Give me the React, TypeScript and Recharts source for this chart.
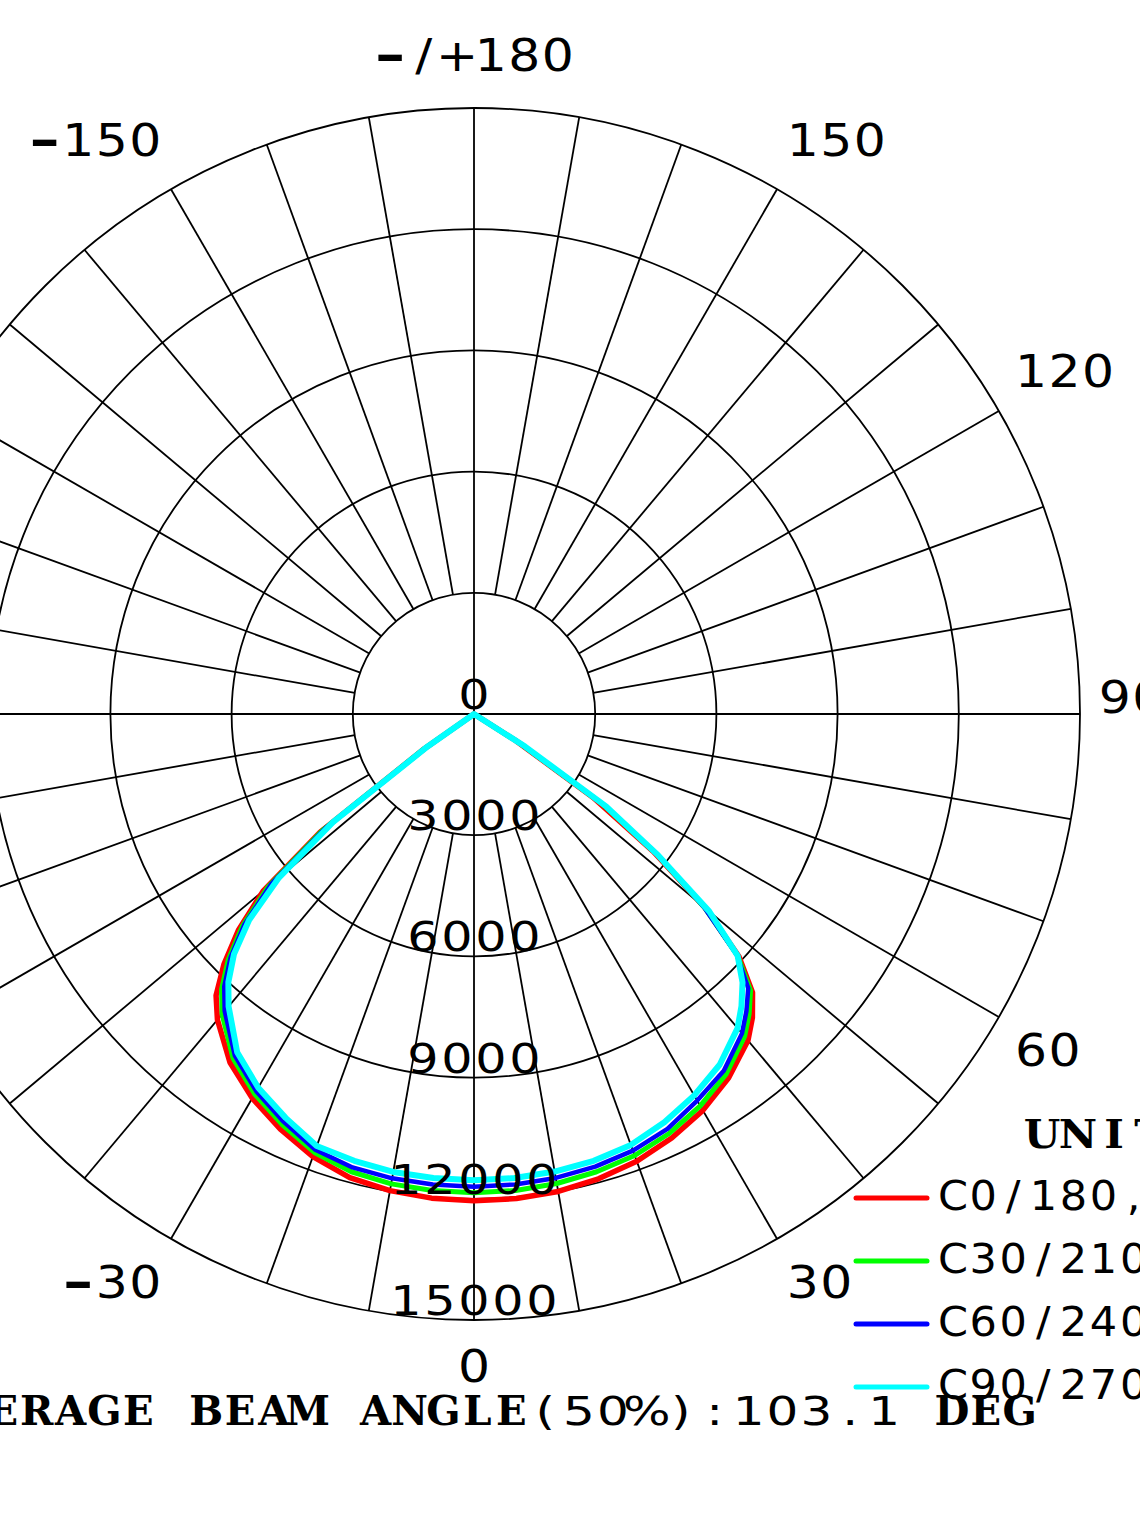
import React from 'react';
import {
  RadarChart,
  Radar,
  PolarGrid,
  PolarAngleAxis,
  PolarRadiusAxis,
  Legend,
  Customized,
} from 'recharts';

// ---------- data ----------
const GAMMA = [-180, -90, -60, -57.5, -55, -52.5, -50, -47.5, -45, -42.5, -40, -35, -30, -25, -20, -15, -10, -5, 0, 5, 10, 15, 20, 25, 30, 35, 40, 42.5, 45, 47.5, 50, 52.5, 55, 57.5, 60, 90, 180];

const C0_180 = [0, 0, 0, 0, 1500, 4800, 6800, 7900, 8750, 9450, 9880, 10530, 10980, 11340, 11660, 11880, 11980, 12030, 12050, 12040, 12000, 11910, 11780, 11580, 11330, 10990, 10550, 10200, 9750, 8900, 7500, 5600, 3600, 1200, 0, 0, 0];
const C30_210 = [0, 0, 0, 0, 1500, 4700, 6650, 7780, 8600, 9250, 9700, 10400, 10860, 11220, 11550, 11730, 11810, 11840, 11850, 11840, 11800, 11730, 11630, 11450, 11200, 10880, 10420, 10080, 9680, 8850, 7450, 5700, 3850, 1350, 0, 0, 0];
const C60_240 = [0, 0, 0, 0, 1500, 4600, 6550, 7700, 8520, 9150, 9600, 10320, 10780, 11140, 11480, 11620, 11670, 11690, 11700, 11690, 11660, 11600, 11500, 11330, 11050, 10780, 10320, 9980, 9600, 8820, 7430, 5750, 3950, 1450, 0, 0, 0];
const C90_270 = [0, 0, 0, 0, 1400, 4400, 6300, 7550, 8400, 9000, 9450, 10220, 10680, 11030, 11380, 11450, 11510, 11530, 11540, 11530, 11500, 11450, 11350, 11150, 10900, 10600, 10150, 9800, 9400, 8850, 7600, 5750, 4000, 1500, 0, 0, 0];

const SERIES_KEYS = ['c0', 'c30', 'c60', 'c90'];
const SERIES_NAMES = ['C0/180', 'C30/210', 'C60/240', 'C90/270'];
const SERIES_COLORS = ['#ff0000', '#00ff00', '#0000ff', '#00ffff'];
const SERIES_WIDTHS = [5.5, 5, 4.5, 6];

const RADIUS_DOMAIN = [0, 15000];
const RADIUS_TICKS = [0, 3000, 6000, 9000, 12000, 15000];
const ANGLE_TICKS = [-150, -120, -90, -60, -30, 0, 30, 60, 90, 120, 150, 180];
const ANGLE_LABELS = ['-150', '-120', '-90', '-60', '-30', '0', '30', '60', '90', '120', '150', '-/+180'];
const SPOKE_STEP = 10;
const UNIT_TEXT = 'UNIT:cd';
const NOTE_TEXT = 'AVERAGE BEAM ANGLE(50%):103.1 DEG';

const data = GAMMA.map((g, i) => ({
  gamma: g,
  c0: C0_180[i],
  c30: C30_210[i],
  c60: C60_240[i],
  c90: C90_270[i],
}));

// ---------- layout ----------
const W = 1140;
const H = 1520;
const CX = 474;
const CY = 714;
const R_OUT = 606;
const R_IN = 121;
const START_ANGLE = -270; // gamma -180 at top, 0 at bottom, +90 at right
const END_ANGLE = 90;
const SANS = "'DejaVu Sans', Verdana, sans-serif";
const SERIF = "'DejaVu Serif', serif";
const GRID_W = 1.8;

const angleOfGamma = (g: number) =>
  START_ANGLE + ((g - (-180)) / 360) * (END_ANGLE - START_ANGLE);
const SPOKE_ANGLES = Array.from({ length: 360 / SPOKE_STEP }, (_, i) => -180 + SPOKE_STEP * (i + 1))
  .filter((g) => g % 90 !== 0)
  .map(angleOfGamma);
const AXIS_ANGLES = [-90, 0, 90, 180].map(angleOfGamma);

type GlyphStyle = { family: string; weight: number; size: number; sx: number };

type MonoProps = {
  text: string;
  x: number;
  y: number;
  anchor: 'start' | 'middle' | 'end';
  pitch: number;
  styleFor: (c: string) => GlyphStyle;
  vAlign?: 'baseline' | 'middle';
  vSize?: number;
};

// text laid out in fixed-width cells (the reference uses a wide monospaced look)
function MonoText({ text, x, y, anchor, pitch, styleFor, vAlign = 'baseline', vSize = 40 }: MonoProps) {
  const chars = Array.from(text);
  const w = chars.length * pitch;
  const left = anchor === 'start' ? x : anchor === 'end' ? x - w : x - w / 2;
  const base = vAlign === 'middle' ? y + vSize * 0.365 : y;
  const groups: { key: string; st: GlyphStyle; items: { c: string; i: number }[] }[] = [];
  chars.forEach((c, i) => {
    const st = styleFor(c);
    const key = `${st.family}|${st.weight}|${st.size}|${st.sx}`;
    let g = groups.find((gg) => gg.key === key);
    if (!g) {
      g = { key, st, items: [] };
      groups.push(g);
    }
    g.items.push({ c, i });
  });
  return (
    <g>
      {groups.map((g) => (
        <text
          key={g.key}
          transform={`translate(${left},${base}) scale(${g.st.sx},1)`}
          textAnchor="middle"
          fill="#000"
          fontSize={g.st.size}
          fontFamily={g.st.family}
          fontWeight={g.st.weight}
          style={{ whiteSpace: 'pre' }}
        >
          {g.items.map(({ c, i }) => (
            <tspan key={i} x={((i + 0.5) * pitch) / g.st.sx} y={0}>
              {c}
            </tspan>
          ))}
        </text>
      ))}
    </g>
  );
}

const angleStyle = (c: string): GlyphStyle =>
  c === '-'
    ? { family: SANS, weight: 700, size: 45, sx: 1.7 }
    : { family: SANS, weight: 400, size: 45, sx: 1.12 };
const ringStyle = (): GlyphStyle => ({ family: SANS, weight: 400, size: 41, sx: 1.2 });
const legendStyle = (): GlyphStyle => ({ family: SANS, weight: 400, size: 41, sx: 1.05 });
const unitStyle = (): GlyphStyle => ({ family: SERIF, weight: 700, size: 40, sx: 1.05 });
const noteStyle = (c: string): GlyphStyle =>
  /[A-Za-z ]/.test(c)
    ? { family: SERIF, weight: 700, size: 41, sx: 0.98 }
    : { family: SANS, weight: 400, size: 38.5, sx: 1.3 };

const AngleTick = (props: any) => {
  const { x, y, payload } = props;
  const v = payload?.value;
  const idx = ANGLE_TICKS.indexOf(v);
  if (idx < 0) return <g />;
  const dx = x - CX;
  const dy = y - CY;
  const len = Math.hypot(dx, dy) || 1;
  const ux = dx / len;
  const uy = dy / len;
  const anchor = ux > 0.1 ? 'start' : ux < -0.1 ? 'end' : 'middle';
  const px = CX + ux * (anchor === 'middle' ? 632 : 624);
  const py = CY + uy * 632;
  const off = uy > 0.1 ? 20 : uy < -0.1 ? -27 : -17;
  return (
    <MonoText
      text={ANGLE_LABELS[idx]}
      x={px}
      y={py + off}
      anchor={anchor}
      pitch={33.5}
      styleFor={angleStyle}
      vAlign="middle"
      vSize={45}
    />
  );
};

const RadiusTick = (props: any) => {
  const { x, y, payload } = props;
  return (
    <MonoText text={String(payload?.value)} x={x} y={y - 5} anchor="middle" pitch={34} styleFor={ringStyle} />
  );
};

const LegendContent = (props: any) => {
  const payload = props?.payload ?? [];
  const items = SERIES_NAMES.map((name, i) => {
    const p = payload.find((e: any) => e?.value === name);
    const color = p?.payload?.stroke ?? SERIES_COLORS[i];
    return { name, color };
  });
  return (
    <svg width={300} height={320} style={{ display: 'block', overflow: 'hidden' }}>
      <MonoText text={UNIT_TEXT} x={184} y={48} anchor="start" pitch={36} styleFor={unitStyle} />
      {items.map((it, i) => {
        const yy = 98 + i * 63;
        return (
          <g key={it.name}>
            <line x1={16} x2={87} y1={yy} y2={yy} stroke={it.color} strokeWidth={5} strokeLinecap="round" />
            <MonoText
              text={`${it.name},`}
              x={98}
              y={yy - 3}
              anchor="start"
              pitch={30.1}
              styleFor={legendStyle}
              vAlign="middle"
              vSize={41}
            />
          </g>
        );
      })}
    </svg>
  );
};

const BottomNote = () => (
  <g>
    <MonoText text={NOTE_TEXT} x={-82} y={1425} anchor="start" pitch={33.9} styleFor={noteStyle} />
  </g>
);

export default function App() {
  return (
    <div style={{ position: 'absolute', left: 0, top: 0, width: W, height: H, background: '#fff', overflow: 'hidden' }}>
      {/* spokes: start at the first ring */}
      <div style={{ position: 'absolute', left: 0, top: 0 }}>
        <RadarChart
          width={W}
          height={H}
          data={data}
          cx={CX}
          cy={CY}
          innerRadius={R_IN}
          outerRadius={R_OUT}
          startAngle={START_ANGLE}
          endAngle={END_ANGLE}
          margin={{ top: 0, right: 0, bottom: 0, left: 0 }}
        >
          <PolarGrid gridType="circle" polarAngles={SPOKE_ANGLES} polarRadius={[]} stroke="#000" strokeWidth={GRID_W} strokeOpacity={1} />
        </RadarChart>
      </div>
      {/* main chart */}
      <div style={{ position: 'absolute', left: 0, top: 0 }}>
        <RadarChart
          width={W}
          height={H}
          data={data}
          cx={CX}
          cy={CY}
          innerRadius={0}
          outerRadius={R_OUT}
          startAngle={START_ANGLE}
          endAngle={END_ANGLE}
          margin={{ top: 0, right: 0, bottom: 0, left: 0 }}
        >
          <PolarGrid gridType="circle" polarAngles={AXIS_ANGLES} stroke="#000" strokeWidth={GRID_W} strokeOpacity={1} />
          <PolarAngleAxis
            dataKey="gamma"
            type="number"
            domain={[-180, 180]}
            ticks={ANGLE_TICKS as any}
            tickCount={13}
            axisLine={false}
            tickLine={false}
            tick={AngleTick}
          />
          <PolarRadiusAxis
            angle={-90}
            type="number"
            domain={RADIUS_DOMAIN as any}
            ticks={RADIUS_TICKS as any}
            tickCount={6}
            axisLine={false}
            tickLine={false}
            tick={RadiusTick}
          />
          {SERIES_KEYS.map((k, i) => (
            <Radar
              key={k}
              name={SERIES_NAMES[i]}
              dataKey={k}
              stroke={SERIES_COLORS[i]}
              strokeWidth={SERIES_WIDTHS[i]}
              strokeLinejoin="round"
              fill="none"
              fillOpacity={0}
              dot={false}
              isAnimationActive={false}
            />
          ))}
          <Legend
            content={LegendContent}
            layout="vertical"
            verticalAlign="bottom"
            align="right"
            wrapperStyle={{ position: 'absolute', left: 840, top: 1100, width: 300, height: 320 }}
          />
          <Customized component={BottomNote} />
        </RadarChart>
      </div>
    </div>
  );
}
